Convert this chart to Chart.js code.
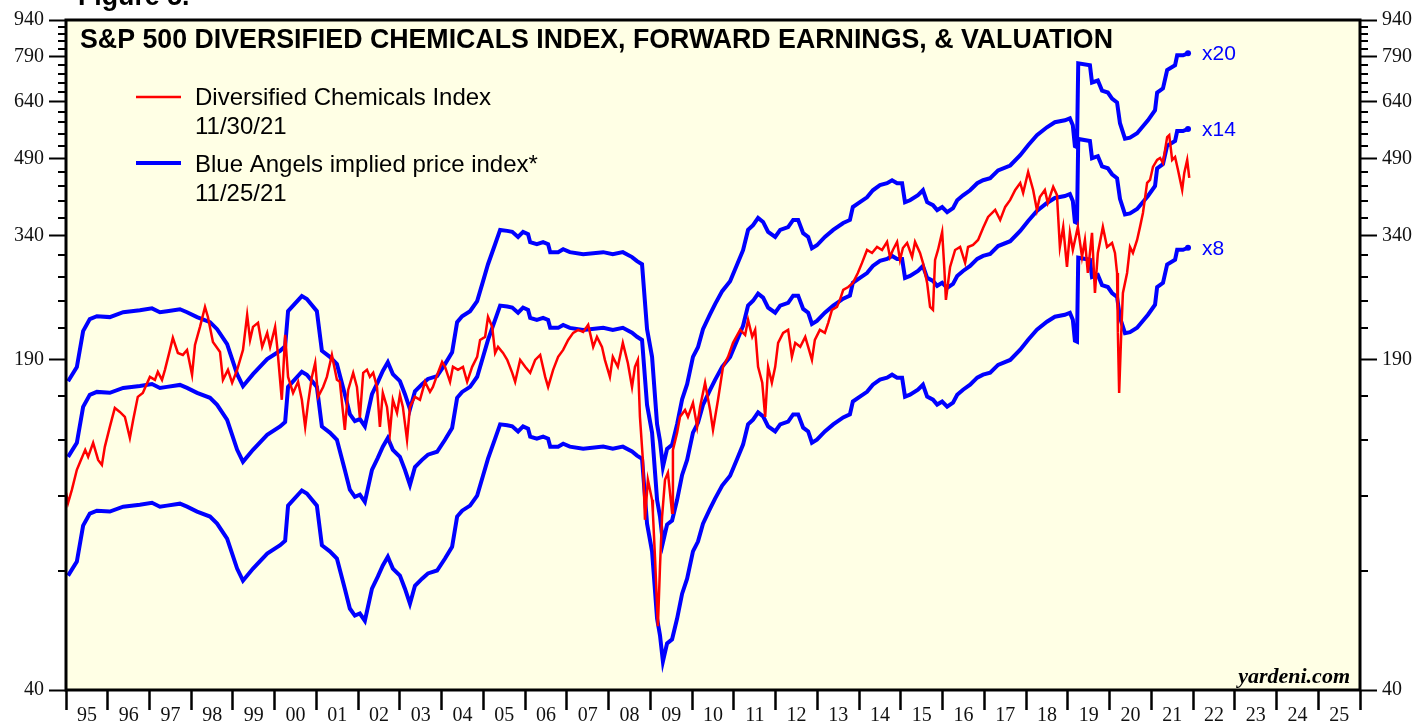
<!DOCTYPE html>
<html>
<head>
<meta charset="utf-8">
<title>S&amp;P 500 Diversified Chemicals Index</title>
<script src="https://cdn.jsdelivr.net/npm/chart.js@4.4.1/dist/chart.umd.min.js"></script>
<style>
  html, body { margin: 0; padding: 0; background: #fff; }
  #wrap { width: 1420px; height: 721px; }
</style>
</head>
<body>
<div id="wrap"><canvas id="chart" width="1420" height="721"></canvas></div>
<script>
/* ── data ── */

// S&P 500 Diversified Chemicals price index (decimal year, index level)
const indexDates = [
  1995.00,1995.05,1995.14,1995.26,1995.34,1995.46,1995.53,1995.65,1995.77,1995.86,1995.93,
  1996.05,1996.17,1996.29,1996.41,1996.53,1996.61,1996.72,1996.84,
  1997.01,1997.13,1997.20,1997.30,1997.37,1997.49,1997.56,1997.68,1997.80,1997.90,
  1998.02,1998.09,1998.21,1998.33,1998.40,1998.52,1998.69,1998.76,1998.88,1998.98,
  1999.10,1999.17,1999.24,1999.34,1999.41,1999.48,1999.60,1999.70,1999.82,1999.89,
  2000.01,2000.06,2000.17,2000.25,2000.32,2000.44,2000.56,2000.65,2000.73,2000.80,2000.89,2000.97,
  2001.04,2001.16,2001.25,2001.37,2001.49,2001.56,2001.68,2001.76,2001.88,2001.97,
  2002.04,2002.12,2002.21,2002.28,2002.36,2002.45,2002.52,2002.59,2002.69,2002.76,2002.83,2002.93,
  2003.00,2003.07,2003.17,2003.24,2003.36,2003.48,2003.60,2003.72,2003.79,2003.91,
  2004.01,2004.08,2004.20,2004.27,2004.39,2004.51,2004.61,2004.73,2004.85,2004.92,
  2005.04,2005.11,2005.21,2005.28,2005.35,2005.47,2005.57,2005.69,2005.76,2005.88,
  2006.00,2006.12,2006.24,2006.36,2006.48,2006.55,2006.67,2006.79,2006.91,
  2007.03,2007.15,2007.27,2007.39,2007.51,2007.63,2007.72,2007.84,2007.91,
  2008.03,2008.10,2008.22,2008.34,2008.46,2008.56,2008.63,2008.70,2008.75,2008.82,2008.87,2008.94,
  2009.04,2009.06,2009.11,2009.18,2009.23,2009.28,2009.35,2009.42,2009.52,2009.54,2009.64,2009.71,2009.83,2009.90,
  2010.02,2010.12,2010.19,2010.31,2010.43,2010.50,2010.62,2010.74,2010.86,2010.98,
  2011.15,2011.27,2011.34,2011.44,2011.51,2011.58,2011.68,2011.75,2011.82,2011.91,2011.99,
  2012.06,2012.18,2012.30,2012.39,2012.47,2012.59,2012.71,2012.78,2012.87,2012.94,
  2013.06,2013.18,2013.26,2013.35,2013.47,2013.54,2013.62,2013.74,2013.85,2013.97,
  2014.07,2014.19,2014.31,2014.43,2014.55,2014.67,2014.74,2014.81,2014.91,2014.98,
  2015.05,2015.15,2015.27,2015.34,2015.46,2015.53,2015.63,2015.70,2015.77,2015.82,2015.89,2015.99,
  2016.04,2016.08,2016.18,2016.30,2016.42,2016.54,2016.61,2016.73,2016.85,2016.97,
  2017.09,2017.26,2017.38,2017.50,2017.62,2017.74,2017.86,2017.93,
  2018.05,2018.17,2018.26,2018.33,2018.45,2018.52,2018.65,2018.74,2018.81,2018.89,2018.98,
  2019.05,2019.12,2019.24,2019.34,2019.41,2019.48,2019.58,2019.65,2019.72,2019.84,2019.94,
  2020.06,2020.13,2020.18,2020.20,2020.23,2020.28,2020.32,2020.42,2020.49,2020.56,2020.66,2020.73,2020.80,2020.90,2020.97,
  2021.04,2021.14,2021.21,2021.28,2021.38,2021.43,2021.50,2021.57,2021.64,2021.74,2021.79,2021.86,2021.91
];
const indexValues = [
  101.3,96.6,102.7,112.9,117.2,124.0,120.0,128.2,118.3,115.5,125.8,
  138.2,151.1,148.3,144.9,131.2,142.9,159.2,162.2,
  174.9,172.5,179.1,172.5,180.8,198.6,210.2,195.8,194.0,198.6,
  176.6,203.4,221.4,243.2,232.0,206.2,196.7,172.5,180.8,170.1,
  180.8,189.5,198.6,234.3,208.2,221.4,225.6,201.5,215.2,201.5,
  221.4,201.5,157.0,213.2,174.9,162.2,170.9,157.0,138.2,154.8,174.9,186.8,
  159.2,166.8,174.9,194.0,172.5,170.9,136.3,164.5,178.3,166.8,
  144.3,178.3,180.8,174.9,178.3,166.8,138.2,162.2,151.8,134.4,157.0,147.6,
  160.7,151.8,130.0,151.8,159.2,157.0,170.9,163.0,166.8,178.3,
  187.7,183.4,170.9,183.4,180.8,183.4,170.9,183.4,192.2,208.2,
  211.2,232.0,221.4,195.8,201.5,195.8,189.5,178.3,170.9,189.5,
  183.4,178.3,189.5,194.0,174.9,166.8,180.8,192.2,198.6,
  208.2,215.2,218.3,216.2,223.5,201.5,211.2,201.5,189.5,
  174.9,192.2,183.4,205.3,186.8,166.8,183.4,189.5,144.9,118.3,89.2,107.7,
  98.0,92.2,74.9,54.0,71.5,90.5,107.7,111.3,92.2,124.0,134.4,144.9,149.7,144.9,
  154.8,138.2,151.8,170.1,149.7,136.3,157.0,183.4,192.2,205.3,
  218.3,213.2,228.8,211.2,218.3,183.4,170.1,144.9,183.4,170.1,183.4,
  205.3,215.2,218.3,192.2,205.3,201.5,211.2,201.5,189.5,208.2,
  218.3,215.2,225.6,239.8,243.2,251.4,263.5,267.2,272.3,285.4,
  299.3,318.1,313.6,322.6,318.1,330.4,307.8,318.1,330.4,303.5,
  321.1,328.8,307.8,330.4,313.6,299.3,272.3,243.2,239.8,303.5,318.1,346.3,
  293.6,251.4,293.6,318.1,322.6,299.3,322.6,325.7,333.5,352.9,
  371.6,384.1,366.4,389.6,402.7,422.1,436.2,416.2,
  459.3,422.1,384.1,408.4,422.1,397.1,428.1,412.3,322.6,354.6,293.6,
  344.7,318.1,354.6,307.8,333.5,285.4,344.7,259.8,313.6,354.6,322.6,
  328.8,313.6,285.4,215.2,162.2,215.2,259.8,285.4,322.6,313.6,333.5,354.6,378.7,436.2,442.4,
  470.3,486.1,490.7,479.3,541.6,546.7,486.1,493.0,463.7,422.1,457.2,486.1,446.6
];

// forward earnings per share (decimal year, $)
const epsDates = [
  1995.05,1995.26,1995.41,1995.57,1995.74,1996.05,1996.37,1996.77,
  1997.06,1997.25,1997.42,1997.73,1997.90,1998.14,1998.45,1998.62,1998.86,
  1999.10,1999.24,1999.48,1999.82,2000.13,2000.25,2000.32,2000.65,2000.77,
  2001.01,2001.13,2001.32,2001.49,2001.68,2001.80,2001.92,2002.04,2002.16,2002.33,2002.47,2002.59,2002.71,2002.83,
  2003.00,2003.12,2003.24,2003.36,2003.53,2003.67,2003.89,2004.08,2004.25,2004.37,2004.49,2004.68,2004.85,2004.99,
  2005.11,2005.28,2005.40,2005.57,2005.69,2005.83,2005.95,2006.07,2006.12,2006.28,2006.43,2006.55,2006.60,2006.79,2006.91,
  2007.07,2007.39,2007.87,2008.10,2008.34,2008.56,2008.68,2008.80,2008.92,
  2009.04,2009.16,2009.23,2009.30,2009.40,2009.52,2009.64,2009.76,2009.88,
  2010.02,2010.14,2010.26,2010.43,2010.55,2010.72,2010.91,2011.08,2011.22,2011.34,2011.46,2011.58,2011.70,2011.82,2011.99,
  2012.11,2012.30,2012.42,2012.54,2012.66,2012.78,2012.87,2012.99,2013.18,2013.38,2013.62,2013.78,2013.85,
  2014.02,2014.19,2014.33,2014.50,2014.67,2014.79,2014.91,2015.03,2015.10,2015.22,2015.41,2015.53,2015.63,2015.77,2015.87,2015.99,
  2016.11,2016.25,2016.35,2016.49,2016.66,2016.83,2016.97,2017.14,2017.33,2017.62,2017.86,
  2018.05,2018.26,2018.50,2018.69,2018.93,2019.05,2019.12,2019.17,2019.22,2019.25,2019.53,2019.58,2019.72,2019.82,2019.96,
  2020.06,2020.18,2020.25,2020.37,2020.49,2020.66,2020.78,2020.92,2021.09,2021.14,2021.28,2021.38,2021.57,2021.62,2021.76,2021.88
];
const fwdEps = [
  8.57,9.16,10.85,11.48,11.64,11.59,11.86,11.97,
  12.08,11.86,11.92,12.03,11.86,11.59,11.32,10.95,10.20,
  8.86,8.37,8.86,9.51,9.89,10.10,11.92,12.80,12.62,
  11.92,9.89,9.61,9.29,8.06,7.34,7.10,7.17,6.93,8.06,8.53,8.99,9.37,8.86,
  8.57,8.06,7.51,8.17,8.45,8.66,8.78,9.29,9.82,11.32,11.64,11.92,12.50,13.72,
  14.87,16.34,17.48,17.40,17.32,16.91,17.32,17.13,16.50,16.34,16.50,16.34,15.74,15.74,15.96,
  15.74,15.59,15.74,15.59,15.74,15.38,15.09,14.87,10.95,
  9.61,7.00,6.47,5.72,6.23,6.35,7.00,7.87,8.45,
  9.61,10.06,10.95,11.75,12.32,13.10,13.72,14.87,15.89,17.48,17.88,18.50,18.15,17.32,16.91,
  17.48,17.71,18.32,18.32,17.21,16.91,16.03,16.26,16.91,17.48,18.06,18.32,19.47,
  19.92,20.38,21.07,21.59,21.78,22.09,21.78,21.78,19.92,20.10,20.58,21.07,19.92,19.64,19.19,19.47,
  19.01,19.37,20.10,20.58,21.07,21.78,22.09,22.30,23.14,23.68,24.85,
  26.05,27.30,28.35,29.03,29.30,29.58,28.63,25.94,25.82,38.33,37.97,35.01,35.34,33.70,33.39,
  32.46,31.86,28.90,26.87,26.99,27.56,28.35,29.30,30.72,33.39,34.05,37.14,37.97,39.80,39.80,40.18
];

const multiples = [20, 14, 8];
const multipleLabels = ['x20', 'x14', 'x8'];

const yTicks = [40,70,100,130,160,190,220,250,280,310,340,370,400,430,460,490,
                520,550,580,610,640,670,700,730,760,790,820,850,880,910,940];
const yLabelTicks = [40, 190, 340, 490, 640, 790, 940];

const xYears = [1995,1996,1997,1998,1999,2000,2001,2002,2003,2004,2005,2006,2007,2008,2009,2010,
                2011,2012,2013,2014,2015,2016,2017,2018,2019,2020,2021,2022,2023,2024,2025,2026];
const yearLabels = ['95','96','97','98','99','00','01','02','03','04','05','06','07','08','09','10',
                    '11','12','13','14','15','16','17','18','19','20','21','22','23','24','25'];

/* ── styling ── */
const RED  = '#ff0000';
const BLUE = '#0000ff';
const CREAM = '#ffffe5';
const SANS  = '"Liberation Sans", Arial, Helvetica, sans-serif';
const SERIF = '"Liberation Serif", "Times New Roman", serif';

const indexPoints = indexDates.map((d, i) => ({ x: d, y: indexValues[i] }));

const bandSets = multiples.map(m => ({
  label: 'x' + m,
  data: epsDates.map((d, i) => ({ x: d, y: fwdEps[i] * m })),
  borderColor: BLUE,
  backgroundColor: BLUE,
  borderWidth: 4,
  pointRadius: ctx => ctx.dataIndex === epsDates.length - 1 ? 3 : 0,
  pointBorderWidth: 0,
  tension: 0
}));

const yTickColor = ctx => yLabelTicks.includes(ctx.tick && ctx.tick.value) ? '#000' : 'rgba(0,0,0,0)';

function yAxis(position, width) {
  return {
    type: 'logarithmic',
    position: position,
    min: 40,
    max: 940,
    afterBuildTicks: s => { s.ticks = yTicks.map(v => ({ value: v })); },
    afterFit: s => { s.width = width; },
    border: { display: false },
    grid: { drawOnChartArea: false, drawTicks: true, tickLength: 17, tickWidth: 2, tickColor: yTickColor },
    ticks: {
      autoSkip: false,
      padding: 5,
      color: '#111',
      font: { family: SERIF, size: 20 },
      callback: v => yLabelTicks.includes(v) ? String(v) : ''
    }
  };
}

/* ── plugins: background, frame, minor ticks, texts ── */
const decor = {
  id: 'decor',
  beforeDraw(chart) {
    const { ctx, chartArea: a } = chart;
    ctx.save();
    ctx.fillStyle = '#fff';
    ctx.fillRect(0, 0, chart.width, chart.height);
    ctx.fillStyle = CREAM;
    ctx.fillRect(a.left, a.top, a.right - a.left, a.bottom - a.top);
    ctx.restore();
  },
  afterDraw(chart) {
    const { ctx, chartArea: a } = chart;
    const ys = chart.scales.y;
    ctx.save();

    // minor ticks both sides
    ctx.strokeStyle = '#000';
    ctx.lineWidth = 2;
    yTicks.forEach(v => {
      if (yLabelTicks.includes(v)) return;
      const py = Math.round(ys.getPixelForValue(v));
      ctx.beginPath();
      ctx.moveTo(a.left - 8, py); ctx.lineTo(a.left, py);
      ctx.moveTo(a.right, py); ctx.lineTo(a.right + 8, py);
      ctx.stroke();
    });

    // frame
    ctx.lineWidth = 3;
    ctx.strokeRect(a.left, a.top, a.right - a.left, a.bottom - a.top);

    // titles
    ctx.fillStyle = '#000';
    ctx.textBaseline = 'alphabetic';
    ctx.font = 'bold 26.75px ' + SANS;
    ctx.fillText('Figure 5.', 78, 5);
    ctx.fillText('S&P 500 DIVERSIFIED CHEMICALS INDEX, FORWARD EARNINGS, & VALUATION', 80, 48);

    // legend
    ctx.lineWidth = 2.5;
    ctx.strokeStyle = RED;
    ctx.beginPath(); ctx.moveTo(136, 97); ctx.lineTo(181, 97); ctx.stroke();
    ctx.lineWidth = 4;
    ctx.strokeStyle = BLUE;
    ctx.beginPath(); ctx.moveTo(136, 163); ctx.lineTo(181, 163); ctx.stroke();
    ctx.font = '24px ' + SANS;
    ctx.fillText('Diversified Chemicals Index', 195, 105);
    ctx.fillText('11/30/21', 195, 134);
    ctx.fillText('Blue Angels implied price index*', 195, 172);
    ctx.fillText('11/25/21', 195, 201);

    // multiple labels at line ends
    const xs = chart.scales.x;
    const last = epsDates.length - 1;
    ctx.fillStyle = BLUE;
    ctx.font = '21px ' + SANS;
    ctx.textBaseline = 'middle';
    multiples.forEach((m, i) => {
      const px = xs.getPixelForValue(epsDates[last]) + 14;
      const py = ys.getPixelForValue(fwdEps[last] * m) + 1;
      ctx.fillText(multipleLabels[i], px, py);
    });

    // source
    ctx.fillStyle = '#000';
    ctx.textBaseline = 'alphabetic';
    ctx.textAlign = 'right';
    ctx.font = 'italic bold 22px ' + SERIF;
    ctx.fillText('yardeni.com', 1350, 683);
    ctx.restore();
  }
};

new Chart(document.getElementById('chart'), {
  type: 'line',
  data: {
    datasets: [
      {
        label: 'Diversified Chemicals Index',
        data: indexPoints,
        borderColor: RED,
        borderWidth: 2.5,
        pointRadius: 0,
        tension: 0
      },
      ...bandSets
    ]
  },
  options: {
    responsive: false,
    animation: false,
    devicePixelRatio: 1,
    layout: { padding: { top: 20, left: 0, right: 0, bottom: 0 } },
    plugins: { legend: { display: false }, tooltip: { enabled: false }, title: { display: false } },
    scales: {
      x: {
        type: 'linear',
        min: 1995,
        max: 2026,
        afterBuildTicks: s => { s.ticks = xYears.map(v => ({ value: v })); },
        afterFit: s => { s.height = 31; },
        border: { display: false },
        grid: { drawOnChartArea: false, drawTicks: true, tickLength: 20, tickWidth: 2.5, tickColor: '#000' },
        ticks: {
          autoSkip: false,
          maxRotation: 0,
          padding: -6,
          labelOffset: 20.9,
          color: '#111',
          font: { family: SERIF, size: 20 },
          callback: (v, i) => yearLabels[i] || ''
        }
      },
      y: yAxis('left', 66),
      y2: yAxis('right', 60)
    }
  },
  plugins: [decor]
});
</script>
</body>
</html>
